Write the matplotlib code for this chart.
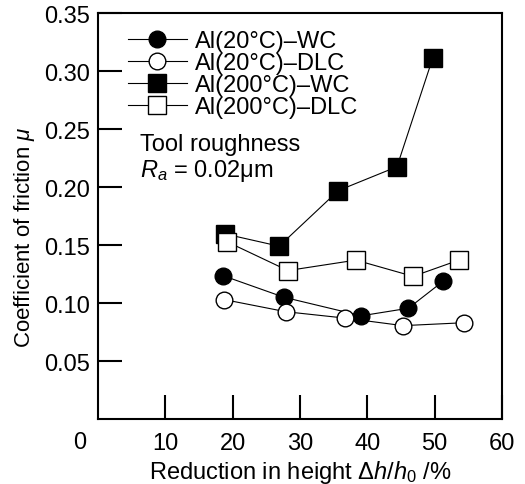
import matplotlib
matplotlib.use('Agg')
import matplotlib.pyplot as plt

plt.rcParams['font.family'] = ['Liberation Sans', 'DejaVu Sans']
plt.rcParams['mathtext.fontset'] = 'custom'
plt.rcParams['mathtext.rm'] = 'Liberation Sans'
plt.rcParams['mathtext.it'] = 'Liberation Sans:italic'
plt.rcParams['mathtext.bf'] = 'Liberation Sans:bold'

# reduction in height (%) and coefficient of friction for each series
x_al20_wc = [18.6, 27.6, 39.1, 46.1, 51.3]
mu_al20_wc = [0.1235, 0.105, 0.089, 0.0955, 0.119]

x_al20_dlc = [18.7, 27.9, 36.7, 45.3, 54.3]
mu_al20_dlc = [0.103, 0.0925, 0.087, 0.0805, 0.083]

x_al200_wc = [18.9, 26.9, 35.7, 44.4, 49.7]
mu_al200_wc = [0.1595, 0.149, 0.197, 0.2175, 0.311]

x_al200_dlc = [19.1, 28.2, 38.3, 46.8, 53.6]
mu_al200_dlc = [0.153, 0.128, 0.137, 0.123, 0.137]

labels = ['Al(20°C)–WC', 'Al(20°C)–DLC', 'Al(200°C)–WC', 'Al(200°C)–DLC']

fs = 17

fig = plt.figure(figsize=(5.25, 4.85), dpi=100)
ax = fig.add_axes([0.1867, 0.134, 0.7695, 0.837])

lw = 0.8
ax.plot(x_al20_wc, mu_al20_wc, '-o', color='black', lw=lw, ms=12,
        mfc='black', mec='black', mew=1, label=labels[0])
ax.plot(x_al20_dlc, mu_al20_dlc, '-o', color='black', lw=lw, ms=12,
        mfc='white', mec='black', mew=1, label=labels[1])
ax.plot(x_al200_wc, mu_al200_wc, '-s', color='black', lw=lw, ms=12.5,
        mfc='black', mec='black', mew=1, label=labels[2])
ax.plot(x_al200_dlc, mu_al200_dlc, '-s', color='black', lw=lw, ms=12.5,
        mfc='white', mec='black', mew=1, label=labels[3])

ax.set_xlim(0, 60)
ax.set_ylim(0, 0.35)
ax.set_xticks([10, 20, 30, 40, 50, 60])
ax.set_yticks([0.05, 0.10, 0.15, 0.20, 0.25, 0.30, 0.35])
ax.set_yticklabels(['0.05', '0.10', '0.15', '0.20', '0.25', '0.30', '0.35'])
ax.tick_params(direction='in', length=17, width=1.5, labelsize=fs, pad=6)
ax.tick_params(axis='x', pad=9)
for s in ax.spines.values():
    s.set_linewidth(1.5)

# shared origin label
ax.text(-0.045, -0.057, '0', transform=ax.transAxes, fontsize=fs,
        ha='center', va='center')

ax.set_xlabel(r'Reduction in height $\mathit{\Delta h/h_0}$ /%', fontsize=fs, labelpad=3)
ax.set_ylabel(r'Coefficient of friction $\mu$', fontsize=16)
ax.yaxis.set_label_coords(-0.15, 0.45)

ax.legend(loc='upper left', bbox_to_anchor=(0.074, 0.958), frameon=False,
          fontsize=fs, handlelength=2.5, handletextpad=0.35, labelspacing=0.0,
          borderpad=0, borderaxespad=0)

ax.text(0.105, 0.677, 'Tool roughness', transform=ax.transAxes, fontsize=fs,
        ha='left', va='center')
ax.text(0.105, 0.614, r'$R_a$ = 0.02μm', transform=ax.transAxes, fontsize=fs,
        ha='left', va='center')

fig.savefig('out.png', dpi=100)
